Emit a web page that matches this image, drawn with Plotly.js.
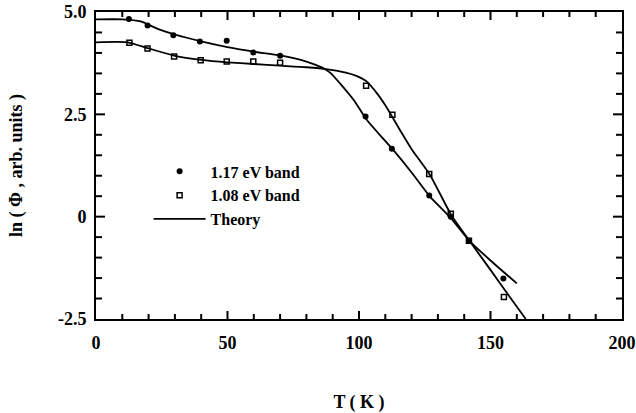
<!DOCTYPE html>
<html>
<head>
<meta charset="utf-8">
<script src="https://cdn.plot.ly/plotly-3.0.1.min.js"></script>
<style>html,body{margin:0;padding:0;background:#fff;}#chart{width:636px;height:413px;}</style>
</head>
<body>
<div id="chart"></div>
<script>
// 1.17 eV band data (filled circles)
const tBand117 = [12.5, 19.6, 29.4, 39.5, 49.7, 59.8, 70.0, 102.5, 112.5, 126.7, 134.9, 141.8, 154.9];
const lnBand117 = [4.83, 4.67, 4.43, 4.28, 4.30, 4.01, 3.93, 2.45, 1.66, 0.52, 0.00, -0.59, -1.51];
// 1.08 eV band data (open squares)
const tBand108 = [12.7, 19.6, 29.7, 39.8, 49.7, 59.8, 70.0, 102.7, 112.7, 126.7, 134.9, 141.8, 155.1];
const lnBand108 = [4.25, 4.11, 3.91, 3.82, 3.79, 3.79, 3.76, 3.20, 2.49, 1.04, 0.07, -0.59, -1.96];
// Theory curves
const tTheory1 = [0, 10, 17, 23, 30, 40, 50, 60, 70, 80, 86, 89, 93, 98, 103, 109, 113, 120, 127, 135, 142, 150, 160];
const lnTheory1 = [4.82, 4.82, 4.77, 4.60, 4.45, 4.28, 4.14, 4.03, 3.94, 3.79, 3.64, 3.52, 3.24, 2.85, 2.36, 1.92, 1.63, 1.08, 0.49, -0.04, -0.59, -1.07, -1.63];
const tTheory2 = [0, 12, 20, 30, 40, 50, 60, 70, 80, 88, 95, 99, 103, 107, 110, 113, 116, 120, 127, 135, 142, 150, 157, 163.4];
const lnTheory2 = [4.26, 4.26, 4.11, 3.93, 3.83, 3.77, 3.73, 3.69, 3.65, 3.60, 3.52, 3.44, 3.30, 3.00, 2.72, 2.40, 2.07, 1.65, 1.02, 0.05, -0.59, -1.30, -1.93, -2.5];
// Axis ticks
const xTickVals = [0, 50, 100, 150, 200];
const xTickText = ["0", "50", "100", "150", "200"];
const yTickVals = [-2.5, 0, 2.5, 5];
const yTickText = ["-2.5", "0", "2.5", "5.0"];

const FONT = "Liberation Serif, 'Times New Roman', serif";
const NB = '\u00a0';

const traces = [
  {x: tBand117, y: lnBand117, mode: 'markers', name: '1.17 eV band',
   marker: {symbol: 'circle', size: 6, color: '#000'}},
  {x: tBand108, y: lnBand108, mode: 'markers', name: '1.08 eV band',
   marker: {symbol: 'square-open', size: 5, color: '#000', line: {width: 1.5, color: '#000'}}},
  {x: tTheory1, y: lnTheory1, mode: 'lines', name: 'Theory',
   line: {color: '#000', width: 1.8, shape: 'spline', smoothing: 0.6}},
  {x: tTheory2, y: lnTheory2, mode: 'lines', name: 'Theory', showlegend: false,
   line: {color: '#000', width: 1.8, shape: 'spline', smoothing: 0.6}}
];

// Inward tick marks on all four sides, placed in axis units, length in pixels
const shapes = [];
const tickLine = {color: '#000', width: 2};
for (let t = 10; t < 200; t += 10) {
  const len = (t % 50 === 0) ? 8 : 5;
  shapes.push({type: 'line', layer: 'above', xref: 'x', yref: 'paper', ysizemode: 'pixel', yanchor: 0,
               x0: t, x1: t, y0: 0, y1: len, line: tickLine});
  shapes.push({type: 'line', layer: 'above', xref: 'x', yref: 'paper', ysizemode: 'pixel', yanchor: 1,
               x0: t, x1: t, y0: 0, y1: -len, line: tickLine});
}
for (let k = 1; k < 15; k++) {
  const v = -2.5 + 0.5 * k;
  const len = (k % 5 === 0) ? 9 : 6;
  shapes.push({type: 'line', layer: 'above', xref: 'paper', yref: 'y', xsizemode: 'pixel', xanchor: 0,
               x0: 0, x1: len, y0: v, y1: v, line: tickLine});
  shapes.push({type: 'line', layer: 'above', xref: 'paper', yref: 'y', xsizemode: 'pixel', xanchor: 1,
               x0: 0, x1: -len, y0: v, y1: v, line: tickLine});
}

const layout = {
  width: 636, height: 413,
  margin: {l: 96, r: 14, t: 12, b: 94},
  paper_bgcolor: '#fff', plot_bgcolor: '#fff',
  showlegend: true,
  legend: {x: 0.100, y: 0.536, xanchor: 'left', yanchor: 'top', bgcolor: 'rgba(0,0,0,0)',
           font: {family: FONT, size: 16, color: '#000', weight: 'bold'}, itemwidth: 52, tracegroupgap: 0},
  shapes: shapes,
  xaxis: {
    range: [0, 200], showgrid: false, zeroline: false,
    showline: true, linecolor: '#000', linewidth: 2, mirror: true,
    ticks: '', tickmode: 'array', tickvals: xTickVals, ticktext: xTickText,
    tickfont: {family: FONT, size: 18, color: '#000', weight: 'bold'},
    ticklabelstandoff: 6,
    title: {text: 'T ( K )', standoff: 44, font: {family: FONT, size: 18, color: '#000', weight: 'bold'}}
  },
  yaxis: {
    range: [-2.5, 5], showgrid: false, zeroline: false,
    showline: true, linecolor: '#000', linewidth: 2, mirror: true,
    ticks: '', tickmode: 'array', tickvals: yTickVals, ticktext: yTickText,
    tickfont: {family: FONT, size: 18, color: '#000', weight: 'bold'},
    ticklabelstandoff: 4,
    title: {text: NB.repeat(5) + 'ln ( Φ , arb. units )', standoff: 31, font: {family: FONT, size: 18, color: '#000', weight: 'bold'}}
  }
};

Plotly.newPlot('chart', traces, layout, {staticPlot: true});
</script>
</body>
</html>
